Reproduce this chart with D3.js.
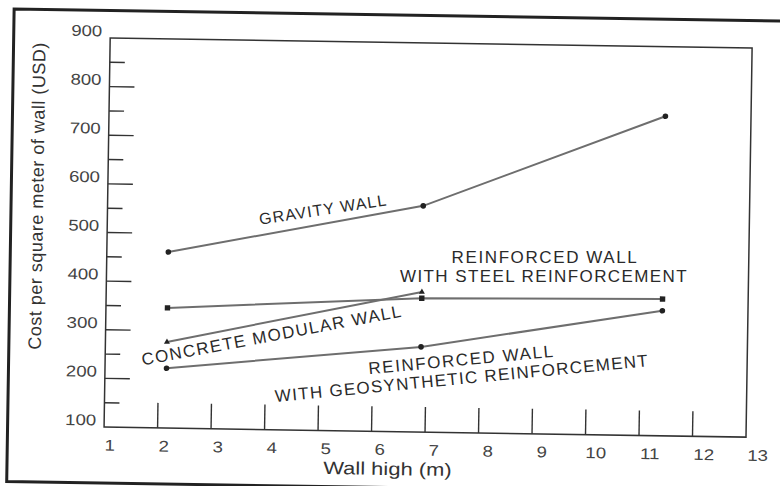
<!DOCTYPE html>
<html>
<head>
<meta charset="utf-8">
<script src="https://cdn.jsdelivr.net/npm/d3@7/dist/d3.min.js"></script>
<style>
  html, body { margin: 0; padding: 0; background: #fff; }
  svg { display: block; }
  text { font-family: "Liberation Sans", Arial, Helvetica, sans-serif; }
</style>
</head>
<body>
<svg id="chart" width="780" height="486"></svg>
<script>
// ---- data ----
const heights = [2.15, 6.9, 11.4];               // wall height (m)
const gravityWall = [462, 565, 757];             // USD / m2
const steelWall = [347, 375, 381];
const concreteModularWall = [277, 388];
const geosyntheticWall = [223, 275, 357];
const xTickValues = [1, 2, 3, 4, 5, 6, 7, 8, 9, 10, 11, 12, 13];
const yTickLabels = [100, 200, 300, 400, 500, 600, 700, 800, 900];
const yMajorTicks = [200, 300, 400, 500, 600, 700, 800];
const yMinorTicks = [150, 250, 350, 450, 550, 650, 750, 850];

const series = [
  { name: "gravity", values: gravityWall, marker: "circle" },
  { name: "steel", values: steelWall, marker: "square" },
  { name: "concrete", values: concreteModularWall, marker: "triangle" },
  { name: "geo", values: geosyntheticWall, marker: "circle" }
];

const labels = [
  { lines: ["GRAVITY WALL"], x: 323.5, y: 216, angle: -9.6, size: 16, ls: 1.1 },
  { lines: ["CONCRETE MODULAR WALL"], x: 274.5, y: 342.8, angle: -11.6, size: 17, ls: 1.4 },
  { lines: ["REINFORCED WALL"], x: 545.3, y: 260.3, angle: -0.9, size: 17, ls: 1.6 },
  { lines: ["WITH STEEL REINFORCEMENT"], x: 544.6, y: 279.6, angle: -0.9, size: 17, ls: 1.4 },
  { lines: ["REINFORCED WALL"], x: 463.9, y: 364.4, angle: -6.3, size: 17, ls: 1.6 },
  { lines: ["WITH GEOSYNTHETIC REINFORCEMENT"], x: 464.7, y: 382.9, angle: -6.4, size: 17, ls: 1.3 }
];

// ---- layout ----
const svg = d3.select("#chart");
const root = svg.append("g").attr("transform", "rotate(0.9,390,243)");

const x = d3.scaleLinear().domain([1, 13]).range([107, 749]);
const xLab = d3.scaleLinear().domain([1, 13]).range([113, 761]);
const y = d3.scaleLinear().domain([100, 900]).range([431.5, 42.4]);

// outer frame (top, left, bottom)
root.append("path")
  .attr("d", "M800,15 L10.5,15 L10.5,487.5 L800,487.5")
  .attr("fill", "none").attr("stroke", "#222").attr("stroke-width", 3);

// plot box
root.append("rect")
  .attr("x", x(1)).attr("y", y(900))
  .attr("width", x(13) - x(1)).attr("height", y(100) - y(900))
  .attr("fill", "none").attr("stroke", "#333").attr("stroke-width", 1.5);

// y ticks
root.selectAll(".ymaj").data(yMajorTicks).join("line")
  .attr("x1", x(1)).attr("x2", x(1) + 25)
  .attr("y1", d => y(d)).attr("y2", d => y(d))
  .attr("stroke", "#333").attr("stroke-width", 1.4);
root.selectAll(".ymin").data(yMinorTicks).join("line")
  .attr("x1", x(1)).attr("x2", x(1) + 15)
  .attr("y1", d => y(d)).attr("y2", d => y(d))
  .attr("stroke", "#333").attr("stroke-width", 1.4);

// x ticks
root.selectAll(".xt").data(xTickValues.slice(1, -1)).join("line")
  .attr("x1", d => x(d)).attr("x2", d => x(d))
  .attr("y1", y(100)).attr("y2", y(100) - 25)
  .attr("stroke", "#333").attr("stroke-width", 1.4);

// y tick labels
root.selectAll(".yl").data(yTickLabels).join("text")
  .attr("transform", d => `translate(99,${y(d) - 1.5}) scale(1.2,1)`)
  .attr("text-anchor", "end")
  .attr("font-size", 15.5)
  .attr("fill", "#444")
  .text(d => d);

// x tick labels
root.selectAll(".xl").data(xTickValues).join("text")
  .attr("transform", d => `translate(${xLab(d)},455) scale(1.2,1)`)
  .attr("text-anchor", "middle")
  .attr("font-size", 15.5)
  .attr("fill", "#444")
  .text(d => d);

// axis titles
root.append("text")
  .attr("transform", "translate(391,475) scale(1.22,1)")
  .attr("text-anchor", "middle")
  .attr("font-size", 18)
  .attr("fill", "#333")
  .text("Wall high (m)");

root.append("text")
  .attr("transform", "translate(42.5,201.5) rotate(-90)")
  .attr("text-anchor", "middle")
  .attr("font-size", 18)
  .attr("letter-spacing", 0.5)
  .attr("fill", "#333")
  .text("Cost per square meter of wall (USD)");

// lines
const line = d3.line().x((d, i) => x(heights[i])).y(d => y(d));
series.forEach(s => {
  root.append("path")
    .datum(s.values)
    .attr("d", line)
    .attr("fill", "none")
    .attr("stroke", "#6e6e6e")
    .attr("stroke-width", 2);
});

// markers
series.forEach(s => {
  const pts = s.values.map((v, i) => [x(heights[i]), y(v)]);
  const g = root.append("g").attr("fill", "#222");
  if (s.marker === "circle") {
    g.selectAll("circle").data(pts).join("circle")
      .attr("cx", d => d[0]).attr("cy", d => d[1]).attr("r", 2.8);
  } else if (s.marker === "square") {
    g.selectAll("rect").data(pts).join("rect")
      .attr("x", d => d[0] - 2.7).attr("y", d => d[1] - 2.7)
      .attr("width", 5.4).attr("height", 5.4);
  } else {
    g.selectAll("path").data(pts).join("path")
      .attr("d", d => `M${d[0]},${d[1] - 3.5} L${d[0] + 3},${d[1] + 1.8} L${d[0] - 3},${d[1] + 1.8} Z`);
  }
});

// curve labels
labels.forEach(l => {
  root.append("text")
    .attr("transform", `translate(${l.x},${l.y}) rotate(${l.angle})`)
    .attr("text-anchor", "middle")
    .attr("font-size", l.size)
    .attr("letter-spacing", l.ls)
    .attr("fill", "#2a2a2a")
    .text(l.lines[0]);
});
</script>
</body>
</html>
